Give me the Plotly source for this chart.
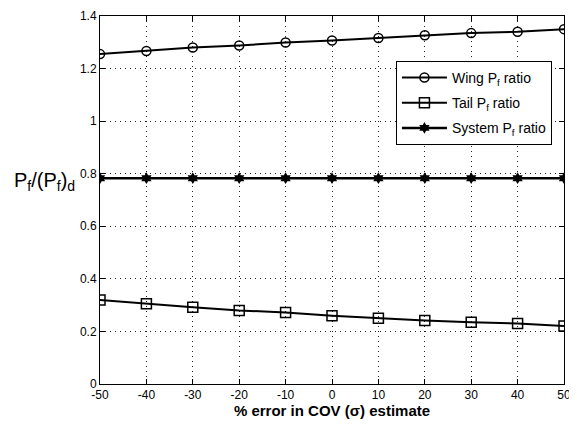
import plotly.graph_objects as go

x_err = [-50, -40, -30, -20, -10, 0, 10, 20, 30, 40, 50]
wing_ratio = [1.255, 1.267, 1.280, 1.288, 1.299, 1.307, 1.316, 1.327, 1.335, 1.340, 1.350]
tail_ratio = [0.320, 0.305, 0.292, 0.280, 0.272, 0.260, 0.250, 0.242, 0.235, 0.230, 0.221]
system_ratio = [0.783] * 11

x_ticks = [-50, -40, -30, -20, -10, 0, 10, 20, 30, 40, 50]
y_ticks = [0, 0.2, 0.4, 0.6, 0.8, 1.0, 1.2, 1.4]
y_ticklabels = ["0", "0.2", "0.4", "0.6", "0.8", "1", "1.2", "1.4"]

fig = go.Figure()
fig.add_trace(go.Scatter(x=x_err, y=wing_ratio, mode="lines+markers", name="Wing P<sub>f</sub> ratio",
                         legendgroup="w",
                         line=dict(color="black", width=2),
                         marker=dict(symbol="circle-open", size=9, color="black", line=dict(width=1.5))))
fig.add_trace(go.Scatter(x=x_err, y=tail_ratio, mode="lines+markers", name="Tail P<sub>f</sub> ratio",
                         legendgroup="t",
                         line=dict(color="black", width=2),
                         marker=dict(symbol="square-open", size=10, color="black", line=dict(width=1.5))))
fig.add_trace(go.Scatter(x=x_err, y=system_ratio, mode="lines+markers", name="System P<sub>f</sub> ratio",
                         legendgroup="s",
                         line=dict(color="black", width=2.5),
                         marker=dict(symbol="hexagram", size=9, color="black")))

axis_common = dict(showline=True, linecolor="black", linewidth=1, mirror="ticks",
                   ticks="inside", ticklen=5, tickcolor="black",
                   showgrid=True, gridcolor="#222222", griddash="1px,4px", gridwidth=1,
                   zeroline=False, ticklabeloverflow="allow", automargin=False,
                   tickfont=dict(family="Liberation Sans, Arial", size=12, color="black"))

fig.update_xaxes(range=[-50, 50], tickvals=x_ticks, ticktext=[str(v) for v in x_ticks],
                 title=dict(text="<b>% error in COV (σ) estimate</b>",
                            font=dict(family="Liberation Sans, Arial", size=15, color="black"), standoff=2),
                 **axis_common)
fig.update_yaxes(range=[0, 1.4], tickvals=y_ticks, ticktext=y_ticklabels, **axis_common)

fig.add_annotation(text="P<sub>f</sub>/(P<sub>f</sub>)<sub>d</sub>", xref="paper", yref="paper",
                   x=-0.19, y=0.55, xanchor="left", yanchor="middle", showarrow=False,
                   font=dict(family="Liberation Sans, Arial", size=20, color="black"))

fig.update_layout(
    width=569, height=421,
    margin=dict(l=92, r=13, t=8, b=45),
    plot_bgcolor="white", paper_bgcolor="white",
    legend=dict(x=0.974, y=0.878, xanchor="right", yanchor="top",
                bgcolor="white", bordercolor="black", borderwidth=1,
                font=dict(family="Liberation Sans, Arial", size=14, color="black"),
                tracegroupgap=4, itemwidth=45),
    showlegend=True,
)

fig.write_html("out.html")
